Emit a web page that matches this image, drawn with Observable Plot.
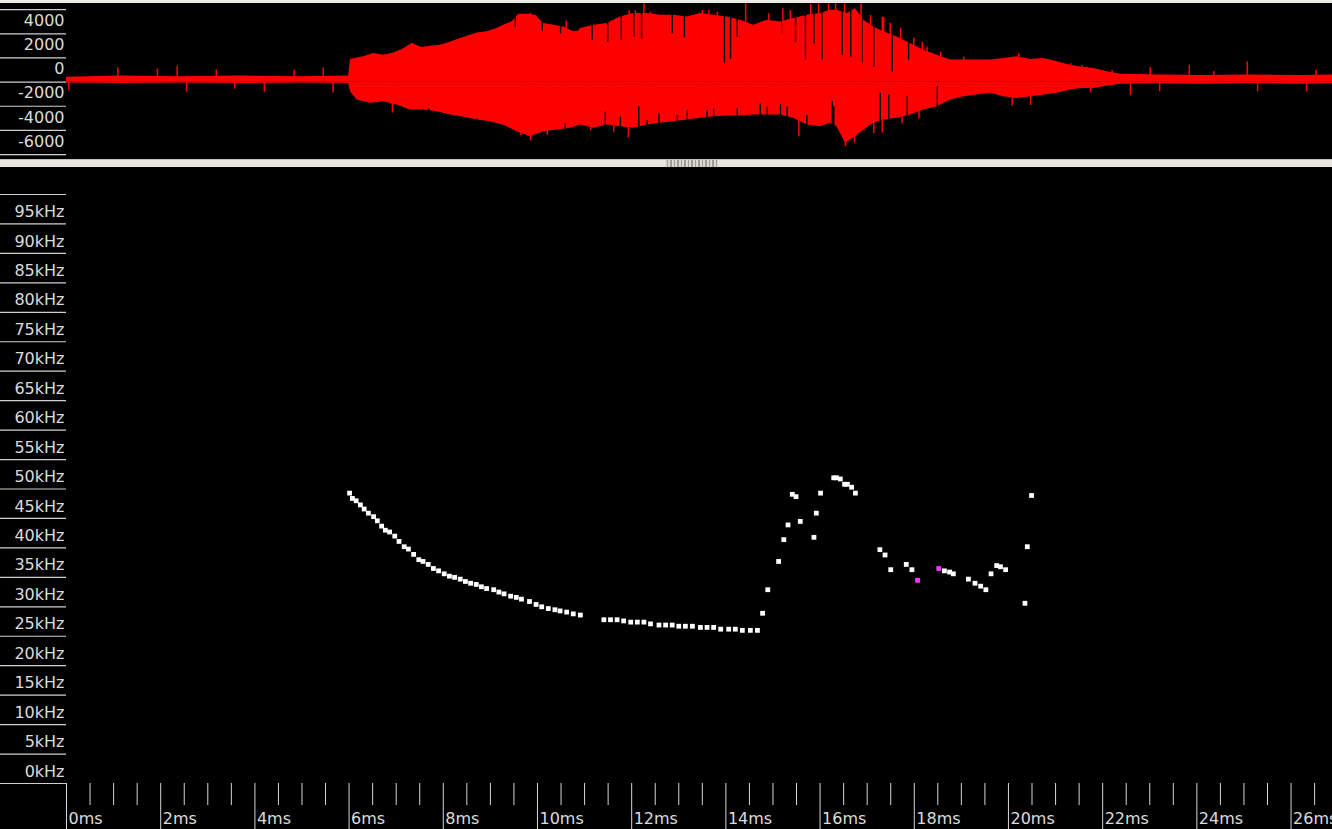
<!DOCTYPE html>
<html><head><meta charset="utf-8">
<script src="https://cdn.jsdelivr.net/npm/d3@7"></script>
<script src="https://cdn.jsdelivr.net/npm/@observablehq/plot@0.6"></script>
<style>
html,body{margin:0;padding:0;background:#000;overflow:hidden}
#wrap{position:relative;width:1332px;height:829px;background:#000;font-family:"DejaVu Sans",sans-serif}
#topstrip{position:absolute;left:0;top:0;width:1332px;height:3px;background:#ecebe7}
#wave{position:absolute;left:0;top:3px;width:1332px;height:164px;overflow:hidden}
#sep{position:absolute;left:0;top:159px;width:1332px;height:8px;background:#e9e6df;border-top:1px solid #c4c1ba;box-sizing:border-box}
#grip{position:absolute;left:665px;top:0;width:53px;height:100%;background:repeating-linear-gradient(90deg,#dcd9d2 0 2px,#9d9a94 2px 3.5px)}
#spec{position:absolute;left:0;top:167px;width:1332px;height:662px;background:#000}
</style></head>
<body>
<div id="wrap">
  <div id="topstrip"></div>
  <div id="wave"></div>
  <div id="sep"><div id="grip"></div></div>
  <div id="spec"></div>
</div>
<script>
// ---------- waveform (time in ms, amplitude) ----------
const upT = [0.00,1.15,2.42,3.69,4.97,5.99,6.03,6.31,6.52,6.74,6.95,7.13,7.34,7.55,7.73,7.94,8.12,8.30,8.51,8.72,8.93,9.14,9.28,9.46,9.60,9.78,9.96,10.13,10.35,10.56,10.77,10.88,10.91,11.20,11.48,11.76,12.04,12.33,12.61,12.89,13.18,13.46,13.74,14.03,14.31,14.59,14.88,15.16,15.44,15.73,16.01,16.22,16.36,16.58,16.75,16.93,17.14,17.35,17.64,17.92,18.20,18.49,18.77,19.05,19.34,19.62,19.90,20.18,20.47,20.75,21.03,21.32,21.53,21.81,22.10,22.38,23.23,24.08,25.14,26.20,26.88];
const upA = [400,500,450,500,450,500,1880,2090,2370,2230,2420,2700,3200,2870,2975,3060,3250,3530,3800,4075,4160,4440,4710,4980,5620,5620,5540,4850,4710,4570,4160,4240,4440,4710,4850,5400,5680,5680,5540,5540,5400,5680,5540,5400,5120,4710,5120,4980,5260,5540,5680,5950,5950,5680,6090,5120,4570,4160,3740,3200,2640,2230,1820,1820,1820,1820,1960,2090,1880,1960,1680,1400,1260,1130,850,660,580,540,580,540,580];
const loT = [0.00,1.15,2.42,3.69,4.97,5.99,6.03,6.17,6.45,6.74,7.02,7.30,7.59,7.87,8.15,8.44,8.72,9.00,9.28,9.57,9.85,10.13,10.42,10.70,10.91,11.20,11.48,11.76,12.04,12.33,12.61,12.89,13.18,13.46,13.74,14.03,14.31,14.59,14.88,15.16,15.44,15.73,16.01,16.22,16.36,16.54,16.75,16.93,17.14,17.35,17.64,17.92,18.20,18.49,18.77,19.05,19.34,19.62,19.90,20.18,20.47,20.75,21.03,21.32,21.53,21.81,22.10,22.38,23.23,24.08,25.14,26.20,26.88];
const loA = [-80,-120,-80,-120,-80,-120,-800,-1490,-1760,-1630,-1900,-2310,-2310,-2450,-2730,-2920,-3140,-3280,-3550,-4110,-4520,-4110,-3970,-3830,-3550,-3830,-3550,-3690,-3830,-3550,-3410,-3280,-3140,-3000,-2870,-2810,-2810,-2730,-2730,-2730,-3000,-3550,-3690,-3410,-3690,-5070,-4520,-3970,-3410,-3140,-3000,-2730,-2310,-2040,-1490,-1210,-1070,-930,-1210,-1350,-1210,-1070,-930,-660,-520,-520,-330,-170,-120,-170,-120,-170,-120];
// isolated peaks reaching beyond the envelope
const spikeT = [1.09,1.93,2.35,3.18,4.83,5.45,9.85,10.61,11.95,12.08,12.26,12.40,13.50,13.64,13.82,14.42,14.91,15.21,15.37,15.80,15.97,16.18,16.33,16.52,16.87,17.07,17.32,17.35,17.49,17.71,17.99,18.17,18.27,18.56,19.05,20.22,21.32,21.56,21.67,22.20,23.01,23.84,24.36,25.07,26.53,
                0.05,2.55,3.57,4.20,5.66,6.92,9.65,9.85,10.21,11.13,11.62,11.93,15.55,16.54,16.73,16.93,17.14,17.32,17.74,18.10,20.08,20.47,21.74,22.59,23.21,25.29,26.33];
const spikeA = [1160,1070,1320,990,990,1160,5710,5050,5930,5930,6490,5790,5930,5930,5790,6490,5660,6070,5930,6450,6490,6490,6490,6490,6490,5520,5380,5370,4880,4460,3640,3310,2890,2480,2060,2340,1520,1380,1230,960,1210,1400,880,1680,990,
                -740,-830,-580,-830,-910,-2560,-4420,-4840,-4420,-4010,-4150,-4630,-4520,-5350,-5040,-4010,-4280,-4210,-3450,-3040,-1980,-1940,-840,-1130,-800,-800,-800];
// dark gaps inside the red band (from outside the band down/up to amplitude)
const gapTopT = [9.53,10.10,10.49,11.16,11.49,11.78,12.05,12.21,12.86,13.12,13.97,14.10,14.24,15.20,15.48,15.69,15.87,16.04,16.47,16.65,16.89,17.14,17.53,17.88];
const gapTopA = [4550,4220,4000,3450,3310,3450,3720,3500,4000,3670,1570,1900,3720,4000,3310,1820,3170,1820,2230,2060,1570,1230,830,1820];
const gapBotT = [6.10,7.13,7.69,8.30,8.72,10.59,11.44,11.76,12.15,12.33,12.58,12.97,13.18,13.60,13.74,14.24,14.73,14.88,15.16,15.30,15.72,16.26,16.29,17.28,17.46,17.85,18.49];
const gapBotA = [-1250,-2350,-2210,-2770,-3040,-3450,-2490,-2910,-2040,-3180,-2630,-2770,-2350,-2350,-2210,-2210,-1820,-2080,-1880,-2080,-2770,-1630,-2040,-930,-1070,-1210,-390];
const ampTicks = [6000,4000,2000,0,-2000,-4000,-6000,-8000];

// ---------- call trace (time ms, frequency kHz) ----------
const callT = [6.01,6.07,6.15,6.24,6.32,6.41,6.52,6.60,6.69,6.77,6.86,6.97,7.06,7.17,7.26,7.37,7.48,7.57,7.68,7.79,7.90,8.02,8.13,8.24,8.36,8.47,8.58,8.70,8.81,8.92,9.07,9.18,9.29,9.43,9.55,9.66,9.83,9.97,10.09,10.23,10.37,10.48,10.62,10.76,10.91,
  11.41,11.55,11.69,11.83,11.98,12.12,12.26,12.40,12.58,12.72,12.86,13.00,13.14,13.29,13.46,13.60,13.74,13.89,14.06,14.20,14.35,14.52,14.67,
  14.78,14.89,15.12,15.23,15.32,15.41,15.49,15.58,15.87,15.92,16.01,16.29,16.35,16.43,16.52,16.58,16.67,16.75,
  17.27,17.38,17.50,17.83,17.95,
  18.64,18.75,18.83,19.15,19.29,19.41,19.52,19.63,19.75,19.83,19.94,20.35,20.40,20.49];
const callF = [49.3,48.4,48.0,47.3,46.6,45.9,45.3,44.6,43.7,43.0,42.7,42.0,41.1,40.2,39.8,38.9,38.0,37.7,37.2,36.5,36.1,35.6,35.2,35.0,34.7,34.3,34.0,33.8,33.4,33.1,32.9,32.5,32.2,31.8,31.6,31.3,30.9,30.4,30.0,29.7,29.5,29.3,29.1,28.8,28.6,
  27.8,27.8,27.8,27.6,27.4,27.4,27.4,27.1,26.9,26.9,26.9,26.7,26.7,26.7,26.5,26.5,26.5,26.2,26.2,26.2,26.0,26.0,26.0,
  28.9,32.9,37.7,41.4,43.9,49.1,48.7,44.5,41.8,45.9,49.3,51.9,51.9,51.7,50.8,50.8,50.3,49.3,
  39.7,38.8,36.3,37.2,36.3,
  36.1,35.9,35.6,34.7,34.0,33.5,32.9,35.6,37.0,36.8,36.3,30.6,40.2,48.9];
const markT = [18.07,18.52];
const markF = [34.5,36.5];
const freqLines = [0,5,10,15,20,25,30,35,40,45,50,55,60,65,70,75,80,85,90,95,100];
const freqLabels = [0,5,10,15,20,25,30,35,40,45,50,55,60,65,70,75,80,85,90,95];
const timeMajor = [0,2,4,6,8,10,12,14,16,18,20,22,24,26];
const timeMinor = [];
for (let i = 0; i <= 53; i++) { const v = i * 0.5; if (v % 2 !== 0) timeMinor.push(v); }

const zip = (ts, vs) => ts.map((t, i) => ({t, v: vs[i]}));
const tDomain = [0, 26.88];
const style = {background: "transparent", color: "#dcdcdc", fontFamily: "DejaVu Sans, sans-serif", fontSize: "16px"};

const wave = Plot.plot({
  width: 1332, height: 164,
  marginLeft: 66, marginRight: 0, marginTop: 0, marginBottom: 0,
  style,
  x: {domain: tDomain, axis: null},
  y: {domain: [-8000, 8000], range: [175.2, -18.0], axis: null},
  marks: [
    Plot.areaY(zip(upT, upA), {x: "t", y1: 0, y2: "v", fill: "#ff0000"}),
    Plot.areaY(zip(loT, loA), {x: "t", y1: 0, y2: "v", fill: "#ff0000"}),
    Plot.ruleX(zip(gapTopT, gapTopA), {x: "t", y1: 8000, y2: "v", stroke: "#000", strokeWidth: 1.4}),
    Plot.ruleX(zip(gapBotT, gapBotA), {x: "t", y1: -8000, y2: "v", stroke: "#000", strokeWidth: 1.4}),
    Plot.ruleX(zip(spikeT, spikeA), {x: "t", y1: 0, y2: "v", stroke: "#ff0000", strokeWidth: 1.5}),
    Plot.axisY({ticks: ampTicks, tickSize: 66, fill: "none", stroke: "#cfcfcf", strokeWidth: 1.2}),
    Plot.axisY({ticks: ampTicks, tickSize: 0, tickPadding: 2, dy: -13, fill: "#dcdcdc", label: null, tickFormat: d => String(d)})
  ]
});
document.getElementById("wave").appendChild(wave);

const spec = Plot.plot({
  width: 1332, height: 662,
  marginLeft: 66, marginRight: 0, marginTop: 27, marginBottom: 46,
  style,
  x: {domain: tDomain, axis: null},
  y: {domain: [0, 100], axis: null},
  marks: [
    Plot.axisY({ticks: freqLines, tickSize: 66, fill: "none", stroke: "#cfcfcf", strokeWidth: 1.2}),
    Plot.axisY({ticks: freqLabels, tickSize: 0, tickPadding: 2, dy: -12, fill: "#dcdcdc", label: null, tickFormat: d => d + "kHz"}),
    Plot.axisX({ticks: timeMinor, tickSize: 22, fill: "none", stroke: "#d6d6d6"}),
    Plot.axisX({ticks: timeMajor, tickSize: 46, fill: "none", stroke: "#d6d6d6"}),
    Plot.axisX({ticks: timeMajor, tickSize: 0, tickPadding: 29, dx: 2, textAnchor: "start", fill: "#dcdcdc", label: null, tickFormat: d => d + "ms"}),
    Plot.dot(zip(callT, callF), {x: "t", y: "v", symbol: "square", r: 2.7, fill: "#ffffff"}),
    Plot.dot(zip(markT, markF), {x: "t", y: "v", symbol: "square", r: 2.7, fill: "#ff33ff"})
  ]
});
document.getElementById("spec").appendChild(spec);
</script>
</body></html>
